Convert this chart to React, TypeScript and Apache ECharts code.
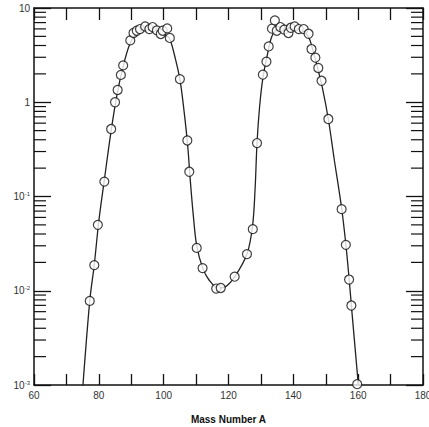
import React, { useEffect, useRef } from "react";
import * as echarts from "echarts";

// Measured points (mass number A, yield %)
const massNumbers = [
  77.2, 78.6, 79.7, 81.7, 83.8, 85.0, 85.8, 86.8, 87.5, 89.7, 90.7, 91.7, 92.7, 94.3, 95.6, 96.6,
  97.9, 99.1, 99.7, 101.1, 101.9, 105.0, 107.3, 107.9, 110.2, 112.0, 116.2, 117.6, 121.9, 125.7,
  127.5, 128.8, 130.6, 131.7, 132.4, 133.4, 134.3, 134.9, 136.0, 137.2, 138.5, 139.2, 140.4, 141.7,
  143.2, 144.7, 145.6, 146.8, 147.7, 148.7, 150.8, 154.9, 156.2, 157.2, 157.9, 159.7,
];
const yields = [
  0.0078, 0.0187, 0.05, 0.144, 0.52, 1.0, 1.35, 1.95, 2.46, 4.53, 5.43, 5.74, 5.98, 6.38, 5.98, 6.28,
  5.79, 5.3, 5.74, 6.07, 4.81, 1.76, 0.393, 0.183, 0.0285, 0.0174, 0.01055, 0.0107, 0.0141, 0.0245,
  0.045, 0.369, 1.96, 2.69, 3.91, 6.03, 7.39, 5.74, 6.28, 5.89, 5.43, 6.17, 6.38, 5.98,
  5.98, 5.33, 3.67, 2.97, 2.31, 1.69, 0.664, 0.0734, 0.0307, 0.01315, 0.00697, 0.00102,
];

// Smooth fitted curve
const curveA = [
  74.9, 77.2, 78.6, 80.0, 81.7, 83.8, 85.5, 87.5, 89.5, 91.5, 94.0, 96.5, 99.0, 100.8, 101.9,
  103.5, 105.0, 106.3, 107.4, 108.2, 109.2, 110.2, 112.0, 114.0, 116.8, 119.0, 122.0, 125.7, 127.4,
  128.2, 128.8, 129.6, 130.6, 132.0, 133.2, 134.6, 137.0, 140.0, 142.5, 144.6, 146.0, 147.5, 149.0,
  150.8, 152.6, 154.9, 156.2, 157.2, 157.9, 160.3,
];
const curveY = [
  0.0008, 0.0078, 0.019, 0.055, 0.15, 0.5, 1.15, 2.4, 4.1, 5.3, 6.05, 6.1, 5.6, 5.1, 4.7,
  3.0, 1.76, 0.8, 0.35, 0.15, 0.06, 0.03, 0.0176, 0.013, 0.0107, 0.011, 0.0142, 0.0245, 0.048,
  0.12, 0.37, 0.9, 1.8, 3.2, 4.8, 5.8, 6.1, 6.1, 5.8, 5.0, 3.6, 2.3, 1.4,
  0.66, 0.25, 0.075, 0.031, 0.0135, 0.007, 0.0008,
];

const xTicksLabelled = [60, 80, 100, 120, 140, 160, 180];
const decades = [0.001, 0.01, 0.1, 1];
const minorMultipliers = [2, 3, 4, 5, 6, 7, 8, 9];

export default function App() {
  const ref = useRef<HTMLDivElement>(null);
  useEffect(() => {
    if (!ref.current) return;
    const chart = echarts.init(ref.current, undefined, { renderer: "svg" });
    const minorValues: number[][] = [];
    decades.forEach((d) => minorMultipliers.forEach((m) => minorValues.push([60, m * d])));

    const axisLine = { lineStyle: { color: "#111", width: 1.5 } };
    const tickStyle = { color: "#111", width: 1.3 };
    const fontFamily = "Liberation Sans, Arial, sans-serif";

    chart.setOption({
      animation: false,
      grid: { left: 34, right: 6, top: 8, bottom: 42, containLabel: false, outerBoundsMode: "none" },
      xAxis: [
        {
          type: "value",
          min: 60,
          max: 180,
          interval: 10,
          position: "bottom",
          name: "Mass Number A",
          nameLocation: "middle",
          nameGap: 29,
          nameTextStyle: { fontFamily, fontWeight: "bold", fontSize: 10, color: "#111" },
          axisLine,
          axisTick: { inside: true, length: 11, lineStyle: tickStyle },
          axisLabel: {
            margin: 5,
            fontFamily,
            fontSize: 10,
            color: "#333",
            formatter: (v: number) => (xTicksLabelled.includes(v) ? String(v) : ""),
          },
          splitLine: { show: false },
        },
        {
          type: "value",
          min: 60,
          max: 180,
          interval: 10,
          position: "top",
          axisLine,
          axisTick: { inside: true, length: 12, lineStyle: tickStyle },
          axisLabel: { show: false },
          splitLine: { show: false },
        },
      ],
      yAxis: [
        {
          type: "log",
          logBase: 10,
          min: 0.001,
          max: 10,
          position: "left",
          axisLine,
          axisTick: { inside: true, length: 17, lineStyle: tickStyle },
          axisLabel: {
            margin: 4,
            fontFamily,
            fontSize: 10,
            color: "#333",
            formatter: (v: number) => {
              const e = Math.round(Math.log10(v));
              if (e === 1) return "10";
              if (e === 0) return "1";
              return "{b|10}{s|" + e + "}";
            },
            rich: {
              b: { fontFamily, fontSize: 10, color: "#333" },
              s: { fontFamily, fontSize: 6, color: "#333", verticalAlign: "top", padding: [0, 0, 5, 0] },
            },
          },
          splitLine: { show: false },
        },
        {
          type: "log",
          logBase: 10,
          min: 0.001,
          max: 10,
          position: "right",
          axisLine,
          axisTick: { inside: true, length: 17, lineStyle: tickStyle },
          axisLabel: { show: false },
          splitLine: { show: false },
        },
      ],
      series: [
        {
          type: "custom",
          silent: true,
          clip: false,
          xAxisIndex: 0,
          yAxisIndex: 0,
          data: minorValues,
          renderItem: (params: any, api: any) => {
            const v = api.value(1);
            const l = api.coord([60, v]);
            const r = api.coord([180, v]);
            const style = { stroke: "#111", lineWidth: 1.2 };
            return {
              type: "group",
              children: [
                { type: "line", shape: { x1: l[0], y1: l[1], x2: l[0] + 12, y2: l[1] }, style },
                { type: "line", shape: { x1: r[0], y1: r[1], x2: r[0] - 12, y2: r[1] }, style },
              ],
            };
          },
        },
        {
          type: "line",
          data: curveA.map((a, i) => [a, curveY[i]]),
          smooth: 0.35,
          showSymbol: false,
          symbol: "none",
          clip: true,
          lineStyle: { color: "#222", width: 1.3 },
          silent: true,
          z: 2,
        },
        {
          type: "scatter",
          data: massNumbers.map((a, i) => [a, yields[i]]),
          symbol: "circle",
          symbolSize: 9,
          itemStyle: { color: "#fff", borderColor: "#111", borderWidth: 1.2 },
          z: 3,
        },
      ],
    });
    return () => chart.dispose();
  }, []);
  return (
    <div
      ref={ref}
      style={{ position: "fixed", left: 0, top: 0, width: 429, height: 427, background: "#fff" }}
    />
  );
}
